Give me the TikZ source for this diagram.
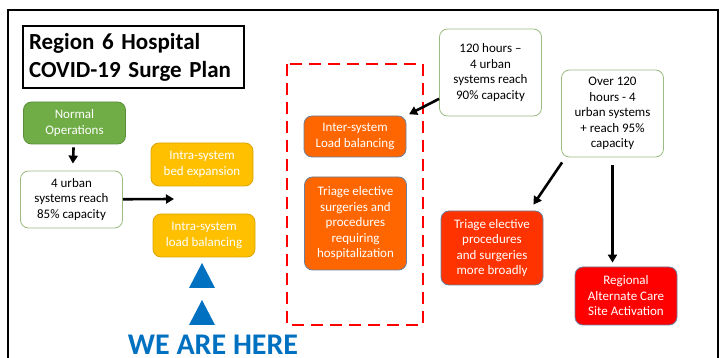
\documentclass[tikz,border=0pt]{standalone}
\usepackage{fontspec}
\setmainfont{Carlito}
\usetikzlibrary{arrows.meta}
\definecolor{normalgreen}{HTML}{70AD47}
\definecolor{normalline}{HTML}{5B8F3A}
\definecolor{paleline}{HTML}{9BBB80}
\definecolor{intrayellow}{HTML}{FFC000}
\definecolor{intraline}{HTML}{D9A400}
\definecolor{interorange}{HTML}{FF6600}
\definecolor{broadorange}{HTML}{FF3300}
\definecolor{regionalred}{HTML}{FF0000}
\definecolor{slateline}{HTML}{6A7F9E}
\definecolor{herblue}{HTML}{0070C0}
\definecolor{dashred}{HTML}{FF0000}
\tikzset{
  box/.style={rounded corners=8pt, minimum width=102pt, align=center,
    font=\fontsize{13}{15.5}\selectfont, line width=0.8pt, inner sep=2pt},
  stagebox/.style={box, draw=paleline, fill=white, text=black},
  actionbox/.style 2 args={box, draw=#2, fill=#1, text=white},
  arr/.style={line width=2.6pt, -{Triangle[length=8pt,width=9pt]}},
}
\begin{document}
\begin{tikzpicture}[x=1pt,y=-1pt]
  \useasboundingbox (0,0) rectangle (721,358);
  % outer frame, open at the bottom
  \draw[line width=2pt] (8,362) -- (8,10) -- (718,10) -- (718,362);
  % title
  \node[draw, line width=1.5pt, text width=209pt, minimum height=62pt,
    align=left, font=\fontsize{23}{28}\selectfont\bfseries, inner sep=6pt]
    (title) at (133.5,57) {Region 6 Hospital\\COVID-19 Surge Plan};
  % left column
  \node[actionbox={normalgreen}{normalline}, minimum height=42pt]
    (normal) at (74.5,123) {Normal\\Operations};
  \node[stagebox, minimum height=57pt]
    (urban85) at (71.5,199.5) {4 urban\\systems reach\\85\% capacity};
  \node[actionbox={intrayellow}{intraline}, minimum height=43pt]
    (bedexp) at (202,164.5) {Intra-system\\bed expansion};
  \node[actionbox={intrayellow}{intraline}, minimum height=43pt]
    (loadbal) at (204,235.5) {Intra-system\\load balancing};
  \coordinate (gap) at (174,199);
  % we are here
  \fill[herblue] (189,288) -- (202,263) -- (215,288) -- cycle;
  \fill[herblue] (189,325) -- (202,300) -- (215,325) -- cycle;
  \node[anchor=base, text=herblue, inner sep=0pt,
    font=\fontsize{30}{32}\selectfont\bfseries] (here) at (213,355) {WE ARE HERE};
  % dashed group
  \draw[dashred, line width=2pt, dash pattern=on 12pt off 7pt]
    (287,64) rectangle (423,325);
  \node[actionbox={interorange}{slateline}, minimum height=41pt]
    (inter) at (355,136.5) {Inter-system\\Load balancing};
  \node[actionbox={interorange}{slateline}, minimum height=93pt]
    (triage1) at (355.5,223.5) {Triage elective\\surgeries and\\procedures\\requiring\\hospitalization};
  % right side
  \node[stagebox, minimum height=87pt]
    (h120) at (490.5,72.5) {120 hours --\\4 urban\\systems reach\\90\% capacity};
  \node[stagebox, minimum height=87pt]
    (over120) at (612.5,113.5) {Over 120\\hours - 4\\urban systems\\+ reach 95\%\\capacity};
  \node[actionbox={broadorange}{slateline}, minimum height=74pt]
    (triage2) at (492,248) {Triage elective\\procedures\\and surgeries\\more broadly};
  \node[actionbox={regionalred}{slateline}, minimum height=58pt]
    (regional) at (626,296) {Regional\\Alternate Care\\Site Activation};
  % connectors
  \draw[arr, shorten <=3pt, shorten >=7pt] (normal) -- (urban85);
  \draw[arr] (urban85) -- (gap);
  \draw[arr, shorten >=3pt] (h120) -- (inter.north east);
  \draw[arr] ([xshift=1pt,yshift=-5pt]over120.south west)
    -- ([xshift=-10pt,yshift=6pt]triage2.north east);
  \draw[arr, shorten <=8pt, shorten >=4pt] (over120.south) -- (over120.south |- regional.north);
\end{tikzpicture}
\end{document}
